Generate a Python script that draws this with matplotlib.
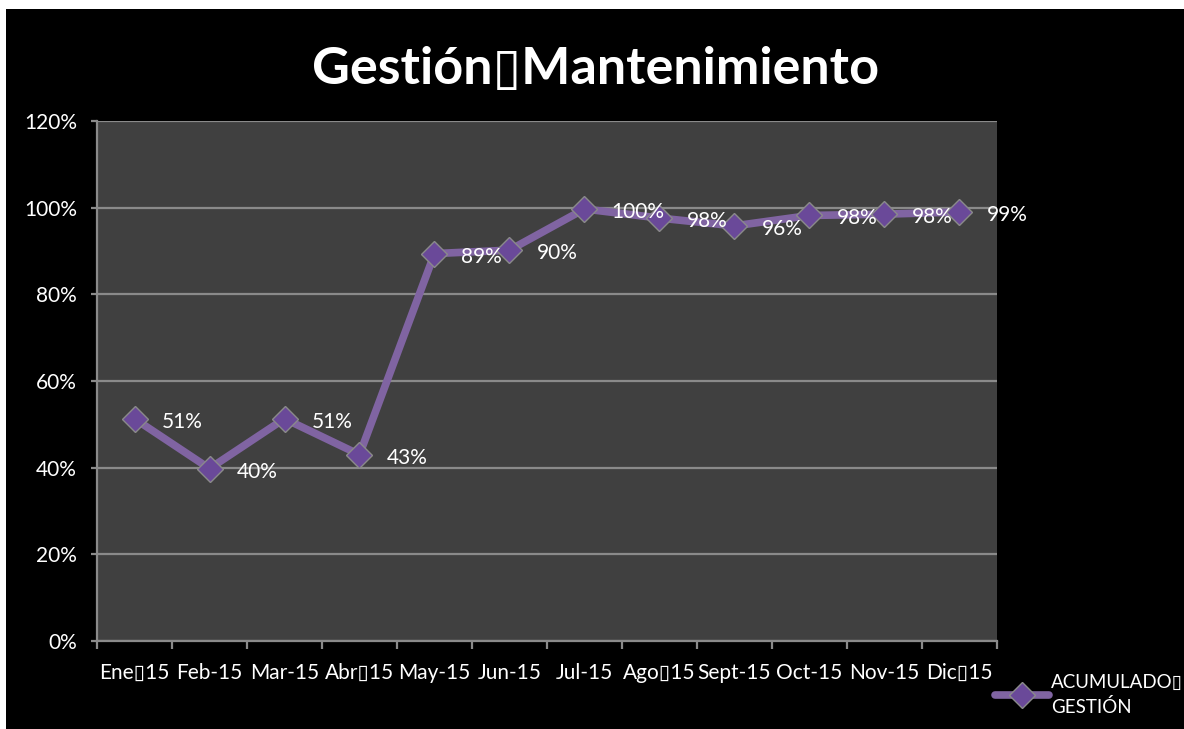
import matplotlib
matplotlib.use("Agg")
import matplotlib.pyplot as plt
from matplotlib.patches import Rectangle
from matplotlib.ticker import FixedLocator, PercentFormatter
import numpy as np

plt.rcParams['font.family'] = ['Lato', 'DejaVu Sans']

BOX = "\u25af"
title = "Gestión" + BOX + "Mantenimiento"
categories = ["Ene" + BOX + "15", "Feb-15", "Mar-15", "Abr" + BOX + "15", "May-15", "Jun-15",
              "Jul-15", "Ago" + BOX + "15", "Sept-15", "Oct-15", "Nov-15", "Dic" + BOX + "15"]
values = [51.3, 39.8, 51.3, 43.0, 89.4, 90.2, 99.7, 97.6, 95.8, 98.2, 98.5, 99.0]
series_name = "ACUMULADO" + BOX + "\nGESTIÓN"
y_ticks = [0, 20, 40, 60, 80, 100, 120]

W, H = 1184, 729
fig = plt.figure(figsize=(W / 100, H / 100), dpi=100, facecolor="white")
fig.patches.append(Rectangle((6 / W, 0), 1 - 6 / W, 1 - 9 / H, transform=fig.transFigure,
                             facecolor="black", edgecolor="none", zorder=-10))

ax = fig.add_axes([97 / W, 1 - 641 / H, 900 / W, 520 / H])
ax.set_facecolor("#404040")

x = np.arange(len(categories))
line_color = "#8064a2"
ax.plot(x, values, color=line_color, lw=5.5, solid_capstyle="round", zorder=3,
        marker="D", ms=13, markerfacecolor="#6a4999", markeredgecolor="#8a8a8a",
        markeredgewidth=1.0, label=series_name)

for xi, v in zip(x, values):
    ax.annotate(f"{v:.0f}%", (xi, v), xytext=(27, -3), textcoords="offset pixels",
                ha="left", va="center", color="white", fontsize=15, zorder=4)

ax.set_xlim(-0.5, len(categories) - 0.5)
ax.set_ylim(0, 120)
ax.yaxis.set_major_locator(FixedLocator(y_ticks))
ax.yaxis.set_major_formatter(PercentFormatter(decimals=0))
ax.grid(axis="y", color="#8a8a8a", lw=1.6, zorder=1)
ax.set_axisbelow(True)

ax.set_xticks(np.arange(len(categories) + 1) - 0.5)
ax.set_xticklabels([])
ax.set_xticks(x, minor=True)
ax.set_xticklabels(categories, minor=True)
ax.tick_params(axis="x", which="major", length=6, width=1.6, color="#8a8a8a", direction="out")
ax.tick_params(axis="x", which="minor", length=0, pad=16, labelsize=15, labelcolor="white")
ax.tick_params(axis="y", length=4.5, width=1.6, color="#8a8a8a", direction="out",
               pad=10, labelsize=15, labelcolor="white")

for side in ["top", "right"]:
    ax.spines[side].set_visible(False)
for side in ["left", "bottom"]:
    ax.spines[side].set_color("#8a8a8a")
    ax.spines[side].set_linewidth(1.6)

fig.text(596 / W, 1 - 70 / H, title, ha="center", va="center", color="white",
         fontsize=37.5, fontweight="bold")

leg = ax.legend(loc="center left", bbox_to_anchor=(995 / W, 1 - 695 / H),
                bbox_transform=fig.transFigure, frameon=False, fontsize=13.5,
                handlelength=2.9, handletextpad=0.1, borderpad=0, borderaxespad=0,
                labelcolor="white")
for t in leg.get_texts():
    t.set_linespacing(1.5)

fig.savefig("out.png", dpi=100, facecolor=fig.get_facecolor())
